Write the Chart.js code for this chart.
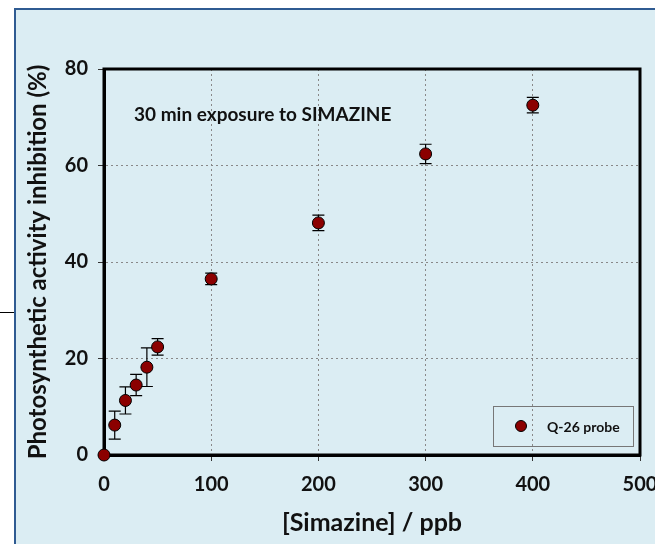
<!DOCTYPE html>
<html>
<head>
<meta charset="utf-8">
<script src="https://cdn.jsdelivr.net/npm/chart.js@4"></script>
<style>
  html, body { margin: 0; padding: 0; background: #fff; overflow: hidden; }
  #frame { position: absolute; left: 14px; top: 8px; width: 700px; height: 600px; border: 2px solid #2f5b92; background: #dbedf3; }
  #stub { position: absolute; left: 0; top: 312px; width: 14px; height: 1px; background: #000; }
  #wrap { position: absolute; left: 0; top: 0; width: 655px; height: 544px; }
</style>
</head>
<body>
<div id="frame"></div>
<div id="stub"></div>
<div id="wrap"><canvas id="chart1"></canvas></div>
<script>
// data
const concentrations = [0, 10, 20, 30, 40, 50, 100, 200, 300, 400];   // ppb
const inhibition = [0, 6.2, 11.3, 14.5, 18.2, 22.4, 36.5, 48.1, 62.4, 72.5]; // %
const inhibitionError = [0, 2.9, 2.8, 2.2, 4.0, 1.7, 1.2, 1.6, 2.0, 1.6];
const xTicks = [0, 100, 200, 300, 400, 500];
const yTicks = [0, 20, 40, 60, 80];
const seriesLabel = 'Q-26 probe';
const noteText = '30 min exposure to SIMAZINE';

const tickFont = { family: 'Lato', size: 20, weight: 'bold' };

// frame, error bars (under the markers), note and legend
const errorBars = {
    id: 'errorBars',
    beforeDatasetsDraw(chart) {
        const ctx = chart.ctx, xs = chart.scales.x, ys = chart.scales.y;
        const a = chart.chartArea;
        ctx.save();
        ctx.strokeStyle = '#000';
        ctx.lineWidth = 3;
        ctx.strokeRect(a.left, a.top, a.right - a.left, a.bottom - a.top);
        ctx.lineWidth = 1.2;
        concentrations.forEach((c, i) => {
            const e = inhibitionError[i];
            if (!e) return;
            const px = xs.getPixelForValue(c);
            const top = ys.getPixelForValue(inhibition[i] + e);
            const bot = ys.getPixelForValue(inhibition[i] - e);
            ctx.beginPath();
            ctx.moveTo(px, top); ctx.lineTo(px, bot);
            ctx.moveTo(px - 6, top); ctx.lineTo(px + 6, top);
            ctx.moveTo(px - 6, bot); ctx.lineTo(px + 6, bot);
            ctx.stroke();
        });
        ctx.restore();
    },
    afterDatasetsDraw(chart) {
        const ctx = chart.ctx, a = chart.chartArea;
        ctx.save();
        ctx.fillStyle = '#111';
        ctx.font = 'bold 19px Lato';
        ctx.textBaseline = 'middle';
        ctx.fillText(noteText, a.left + 30, a.top + 46);
        // legend box
        const bx = a.right - 147, by = a.bottom - 49, bw = 140, bh = 40;
        ctx.strokeStyle = '#777';
        ctx.lineWidth = 1;
        ctx.strokeRect(bx + 0.5, by + 0.5, bw, bh);
        ctx.beginPath();
        ctx.arc(bx + 28, by + 20, 5.5, 0, Math.PI * 2);
        ctx.fillStyle = '#8b0000';
        ctx.fill();
        ctx.strokeStyle = '#000';
        ctx.stroke();
        ctx.fillStyle = '#111';
        ctx.font = 'bold 14px Lato';
        ctx.fillText(seriesLabel, bx + 54, by + 21);
        ctx.restore();
    }
};

const ctx1 = document.getElementById('chart1').getContext('2d');
const myChart1 = new Chart(ctx1, {
    type: 'scatter',
    data: {
        datasets: [{
            label: seriesLabel,
            data: concentrations.map((c, i) => ({ x: c, y: inhibition[i] })),
            backgroundColor: '#8b0000',
            borderColor: '#000',
            borderWidth: 1,
            pointRadius: 6,
            clip: false
        }]
    },
    options: {
        responsive: true,
        maintainAspectRatio: false,
        animation: false,
        layout: { padding: { top: 69, right: 15, bottom: 0, left: 0 } },
        plugins: { legend: { display: false }, tooltip: { enabled: false } },
        scales: {
            x: {
                type: 'linear',
                min: xTicks[0],
                max: xTicks[xTicks.length - 1],
                afterBuildTicks: s => { s.ticks = xTicks.map(v => ({ value: v })); },
                afterFit: s => { s.height = 89; s.paddingLeft = 0; s.paddingRight = 0; },
                ticks: { font: tickFont, color: '#111', padding: 12 },
                grid: { color: '#888', tickColor: '#333', tickLength: 6, tickBorderDash: [] },
                border: { color: '#000', width: 3, dash: [2, 3] },
                title: {
                    display: true,
                    text: '[Simazine] / ppb',
                    font: { family: 'Lato', size: 25, weight: 'bold' },
                    color: '#111',
                    padding: { bottom: 6 }
                }
            },
            y: {
                min: yTicks[0],
                max: yTicks[yTicks.length - 1],
                afterBuildTicks: s => { s.ticks = yTicks.map(v => ({ value: v })); },
                afterFit: s => { s.width = 104; s.paddingTop = 0; s.paddingBottom = 0; },
                ticks: { font: tickFont, color: '#111', padding: 10 },
                grid: { color: '#888', tickColor: '#333', tickLength: 6, tickBorderDash: [] },
                border: { color: '#000', width: 3, dash: [2, 3] },
                title: {
                    display: true,
                    text: 'Photosynthetic activity inhibition (%)',
                    font: { family: 'Lato', size: 24, weight: 'bold' },
                    color: '#111',
                    padding: { top: 24 }
                }
            }
        }
    },
    plugins: [errorBars]
});
</script>
</body>
</html>
